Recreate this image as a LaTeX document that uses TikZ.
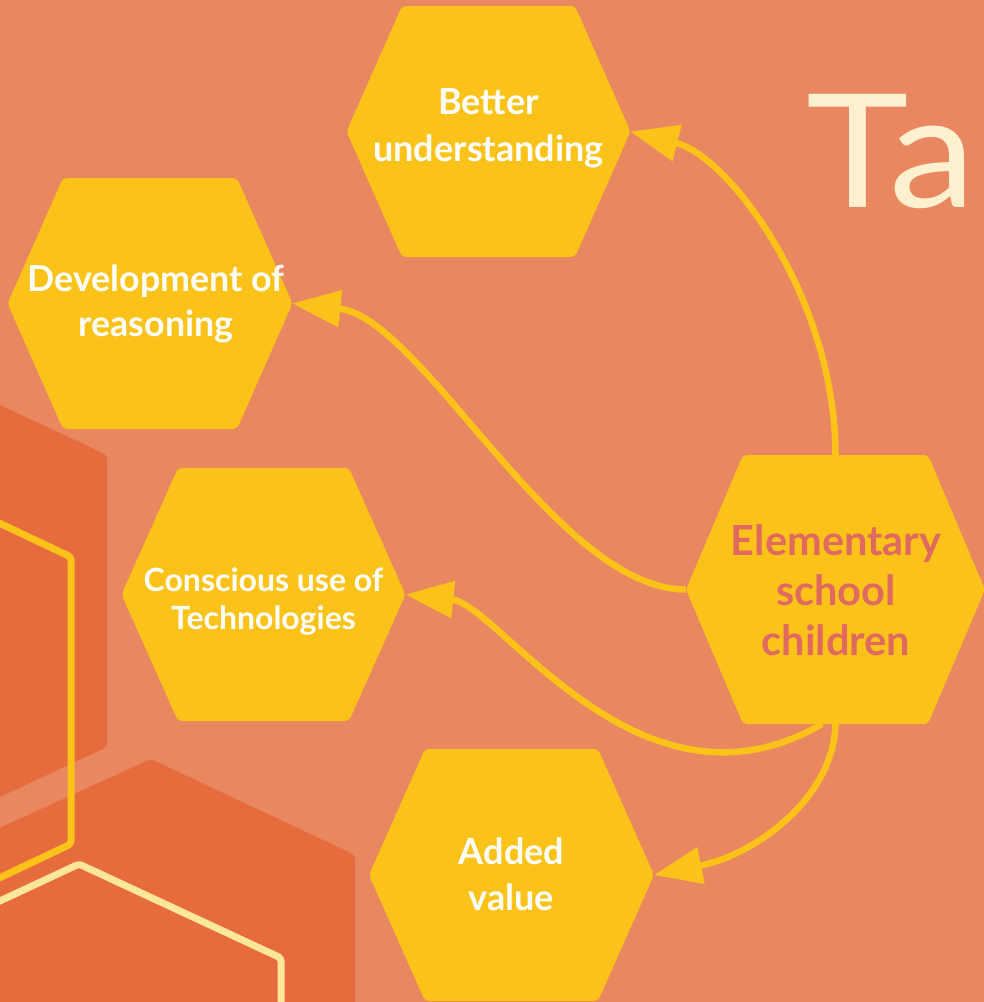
\documentclass[tikz,border=0pt]{standalone}
\usepackage{fontspec}
\usepackage{graphicx}
\setmainfont{Lato}
\usetikzlibrary{arrows.meta}
\definecolor{bgorange}{HTML}{E88760}
\definecolor{darkorange}{HTML}{E76C3D}
\definecolor{hexyellow}{HTML}{FBC21A}
\definecolor{paleyellow}{HTML}{FFE79A}
\definecolor{cream}{HTML}{FFF1D0}
\definecolor{coral}{HTML}{E06A60}
\newcommand\hexcell[6]{% name, cx, cy, half-width, half-top, half-height
  \fill[hexfill] (#2-#4,#3) -- (#2-#5,#3-#6) -- (#2+#5,#3-#6) -- (#2+#4,#3)
    -- (#2+#5,#3+#6) -- (#2-#5,#3+#6) -- cycle;
  \coordinate (#1-l) at (#2-#4,#3);
  \coordinate (#1-r) at (#2+#4,#3);
  \coordinate (#1-t) at (#2,#3-#6);
  \coordinate (#1-b) at (#2,#3+#6);
}
\tikzset{
  hexfill/.style={fill=hexyellow, rounded corners=4pt},
  bgshape/.style={fill=darkorange, rounded corners=4pt},
  outline/.style={line width=7pt, rounded corners=3pt, line join=round},
  lbl/.style={text=white, align=center, inner sep=0pt},
  conn/.style={draw=hexyellow, line width=6.5pt, -{Triangle[length=48pt,width=36pt]}}
}
\begin{document}
\begin{tikzpicture}[x=1pt,y=-1pt]
\useasboundingbox (0,0) rectangle (984,1002);
\fill[bgorange] (0,0) rectangle (984,1002);
% background decoration
\fill[bgshape] (-60,377) -- (107,455) -- (107,747) -- (-60,825) -- cycle;
\fill[bgshape] (-60,855) -- (151,759) -- (355,855) -- (355,1012) -- (-60,1012) -- cycle;
\draw[outline, draw=hexyellow] (-60,495) -- (71,557) -- (71,844) -- (-60,906);
\draw[outline, draw=paleyellow] (-60,929) -- (79,864) -- (281,958) -- (281,1012);
% hexagons
\hexcell{bu}{488.5}{131.5}{142}{86.5}{125.5}
\hexcell{dev}{150}{303.5}{142.5}{87}{125.5}
\hexcell{cons}{263.5}{594.5}{142}{85.5}{126.5}
\hexcell{elem}{835.5}{589.5}{149.5}{92.5}{134.5}
\hexcell{av}{511.5}{875}{142.5}{86.5}{126}
\coordinate (elem-b1) at (822,724);
% labels
\node[lbl, font={\bfseries\fontsize{36}{47}\selectfont}] (bul) at (488.5,128) {Better\\understanding};
\node[lbl, font={\bfseries\fontsize{35.8}{45}\selectfont}] (devl) at (156,304) {Development of\\reasoning};
\node[lbl, font={\bfseries\fontsize{32}{38}\selectfont}] (consl) at (263.5,602) {Conscious use of\\Technologies};
\node[lbl, text=coral, font={\bfseries\fontsize{41.5}{50}\selectfont}] (eleml) at (836,590) {Elementary\\school\\children};
\node[lbl, font={\bfseries\fontsize{36}{46}\selectfont}] (avl) at (511.5,874) {Added\\value};
% connectors
\draw[conn] (elem-t) .. controls +(0,-155) and +(100,25) .. (bu-r);
\draw[conn] (elem-l) .. controls +(-130,0) and +(130,14) .. (dev-r);
\draw[conn] (elem-b1) .. controls +(-182,106) and +(94,10) .. (cons-r);
\draw[conn] (elem-b) .. controls +(-2,75) and +(100,-20) .. (av-r);
% title fragment
\node[text=cream, anchor=base west, inner sep=0pt, font={\fontsize{158}{158}\selectfont}] (title) at (806,207) {\scalebox{1.1}[1]{Ta}};
\end{tikzpicture}
\end{document}
